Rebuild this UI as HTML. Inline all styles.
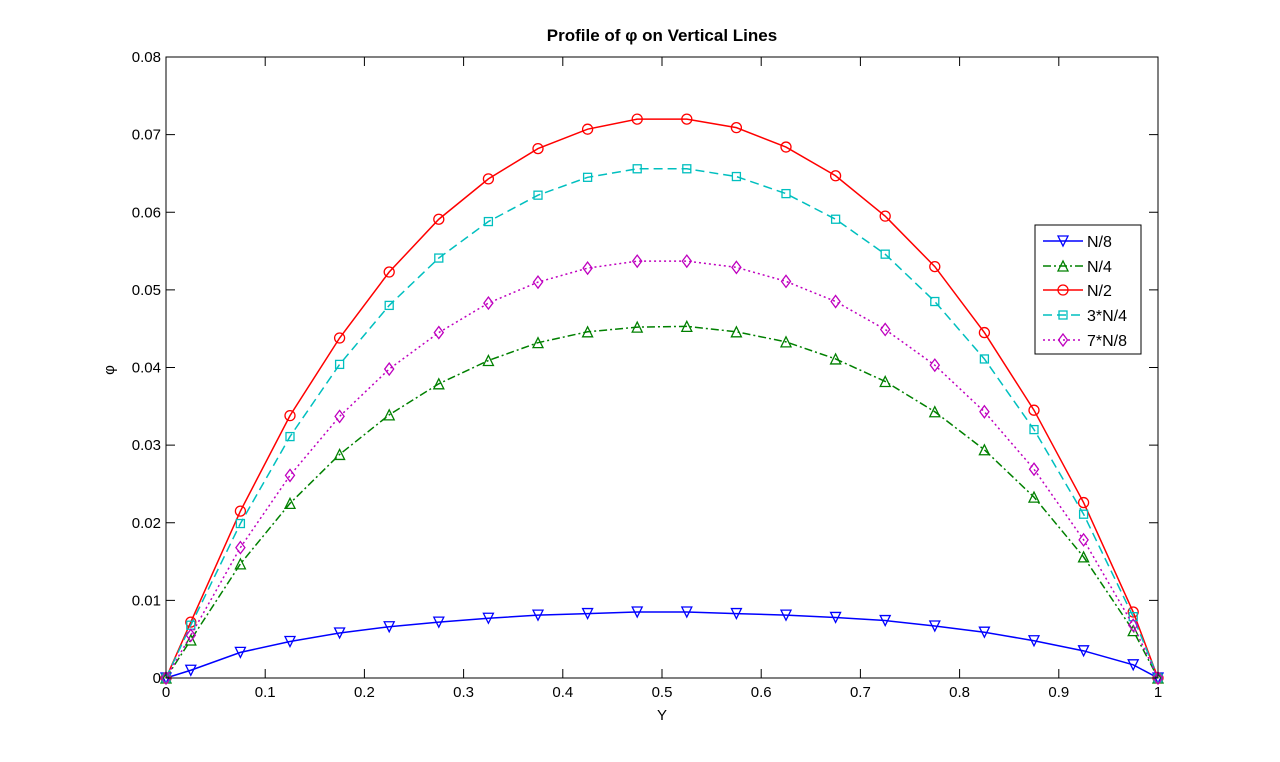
<!DOCTYPE html>
<html><head><meta charset="utf-8"><style>
html,body{margin:0;padding:0;background:#fff;}
svg{display:block;font-family:"Liberation Sans",Arial,sans-serif;}
</style></head><body>
<svg id="chart" width="1280" height="762" viewBox="0 0 1280 762">
<rect x="0" y="0" width="1280" height="762" fill="#fff"/>
<g id="grid"></g>
<g id="series"></g>
<g id="axes"></g>
<g id="legend"></g>
</svg>
<script>
const xs = [0,0.025,0.075,0.125,0.175,0.225,0.275,0.325,0.375,0.425,0.475,0.525,0.575,0.625,0.675,0.725,0.775,0.825,0.875,0.925,0.975,1];
const n8 = [0,0.0010,0.0033,0.0047,0.0058,0.0066,0.0072,0.0077,0.0081,0.0083,0.0085,0.0085,0.0083,0.0081,0.0078,0.0074,0.0067,0.0059,0.0048,0.0035,0.0017,0];
const n4 = [0,0.0049,0.0147,0.0225,0.0288,0.0339,0.0379,0.0409,0.0432,0.0446,0.0452,0.0453,0.0446,0.0433,0.0411,0.0382,0.0343,0.0294,0.0233,0.0156,0.0061,0];
const n2 = [0,0.0072,0.0215,0.0338,0.0438,0.0523,0.0591,0.0643,0.0682,0.0707,0.0720,0.0720,0.0709,0.0684,0.0647,0.0595,0.0530,0.0445,0.0345,0.0226,0.0085,0];
const n34 = [0,0.0068,0.0199,0.0311,0.0404,0.0480,0.0541,0.0588,0.0622,0.0645,0.0656,0.0656,0.0646,0.0624,0.0591,0.0546,0.0485,0.0411,0.0320,0.0211,0.0079,0];
const n78 = [0,0.0055,0.0168,0.0261,0.0337,0.0398,0.0445,0.0483,0.0510,0.0528,0.0537,0.0537,0.0529,0.0511,0.0485,0.0449,0.0403,0.0343,0.0269,0.0178,0.0068,0];
const xTicks = [0,0.1,0.2,0.3,0.4,0.5,0.6,0.7,0.8,0.9,1];
const xTickLabels = ["0","0.1","0.2","0.3","0.4","0.5","0.6","0.7","0.8","0.9","1"];
const yTicks = [0,0.01,0.02,0.03,0.04,0.05,0.06,0.07,0.08];
const yTickLabels = ["0","0.01","0.02","0.03","0.04","0.05","0.06","0.07","0.08"];
const seriesNames = ["N/8","N/4","N/2","3*N/4","7*N/8"];

const L=166,R=1158,T=57,B=678,YMAX=0.08;
const sx=v=>L+(R-L)*v;
const sy=v=>B-(B-T)*v/YMAX;
const NS="http://www.w3.org/2000/svg";
function mk(tag,attrs,parent){const e=document.createElementNS(NS,tag);for(const k in attrs)e.setAttribute(k,attrs[k]);parent.appendChild(e);return e;}

const axes=document.getElementById('axes');
const box=mk('rect',{x:L,y:T,width:R-L,height:B-T,fill:'none',stroke:'#000','stroke-width':1},axes);


xTicks.forEach((t,i)=>{
  const x=sx(t);
  mk('line',{x1:x,y1:B,x2:x,y2:B-9,stroke:'#000'},axes);
  mk('line',{x1:x,y1:T,x2:x,y2:T+9,stroke:'#000'},axes);
  const tx=mk('text',{x:x,y:B+19,'text-anchor':'middle','font-size':15},axes);
  tx.textContent=xTickLabels[i];
  
  
});
yTicks.forEach((t,i)=>{
  const y=sy(t);
  mk('line',{x1:L,y1:y,x2:L+9,y2:y,stroke:'#000'},axes);
  mk('line',{x1:R,y1:y,x2:R-9,y2:y,stroke:'#000'},axes);
  const tx=mk('text',{x:L-5,y:y+5,'text-anchor':'end','font-size':15},axes);
  tx.textContent=yTickLabels[i];
  
  
});
const title=mk('text',{x:662,y:41,'text-anchor':'middle','font-size':17,'font-weight':'bold'},axes);
title.textContent='Profile of φ on Vertical Lines';


const xl=mk('text',{x:662,y:720,'text-anchor':'middle','font-size':15},axes);
xl.textContent='Y';


const yl=mk('text',{x:0,y:0,'text-anchor':'middle','font-size':15,transform:'translate(114,370) rotate(-90)'},axes);
yl.textContent='φ';



function marker(type,x,y,color,g){
  const s=5;
  if(type==='tdown') return mk('polygon',{points:`${x-s},${y-s} ${x+s},${y-s} ${x},${y+s}`,fill:'none',stroke:color,'stroke-width':1.3},g);
  if(type==='tup') return mk('polygon',{points:`${x-s},${y+s} ${x+s},${y+s} ${x},${y-s}`,fill:'none',stroke:color,'stroke-width':1.3},g);
  if(type==='circle') return mk('circle',{cx:x,cy:y,r:s,fill:'none',stroke:color,'stroke-width':1.3},g);
  if(type==='square') return mk('rect',{x:x-4,y:y-4,width:8,height:8,fill:'none',stroke:color,'stroke-width':1.3},g);
  return mk('polygon',{points:`${x},${y-6} ${x+4.5},${y} ${x},${y+6} ${x-4.5},${y}`,fill:'none',stroke:color,'stroke-width':1.3},g);
}
const defs=[
 {d:n8,c:'#0000ff',m:'tdown',dash:''},
 {d:n4,c:'#008000',m:'tup',dash:'8 3 2 3'},
 {d:n2,c:'#ff0000',m:'circle',dash:''},
 {d:n34,c:'#00bfbf',m:'square',dash:'9 5'},
 {d:n78,c:'#bf00bf',m:'diamond',dash:'2 3'}
];
const sg=document.getElementById('series');
defs.forEach((s,k)=>{
  const g=mk('g',{},sg);
  
  
  const pts=xs.map((x,i)=>sx(x)+','+sy(s.d[i])).join(' ');
  const pl=mk('polyline',{points:pts,fill:'none',stroke:s.c,'stroke-width':1.5,'stroke-dasharray':s.dash},g);
  
  
  xs.forEach((x,i)=>{
    const m=marker(s.m,sx(x),sy(s.d[i]),s.c,g);
    
    
  });
});

const lg=document.getElementById('legend');


mk('rect',{x:1035,y:225,width:106,height:129,fill:'#fff',stroke:'#000'},lg);
const rows=[241,266,290,315,340];
defs.forEach((s,k)=>{
  const y=rows[k];
  const e=mk('g',{},lg);
  
  
  mk('line',{x1:1043,y1:y,x2:1083,y2:y,stroke:s.c,'stroke-width':1.5,'stroke-dasharray':s.dash},e);
  marker(s.m,1063,y,s.c,e);
  const t=mk('text',{x:1087,y:y+6,'font-size':16},e);
  t.textContent=seriesNames[k];
});
</script>
</body></html>
